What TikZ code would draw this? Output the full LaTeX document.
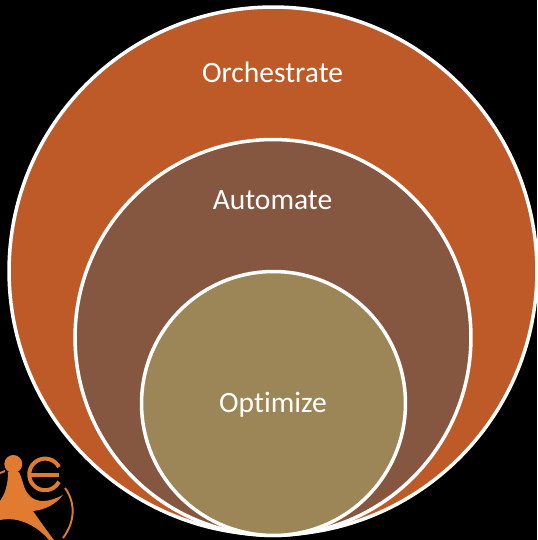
\documentclass[tikz,border=0pt]{standalone}
\usepackage{fontspec}
\setmainfont[Ligatures={NoCommon}]{Carlito}
\definecolor{orchestrate col}{HTML}{BE5A28}
\definecolor{automate col}{HTML}{855640}
\definecolor{optimize col}{HTML}{9C8658}
\definecolor{logo col}{HTML}{E07B30}

\begin{document}
\begin{tikzpicture}[x=0.02cm, y=-0.02cm]
	% Define styles
	\tikzstyle{ring} = [circle, draw=white, line width=2pt, inner sep=0pt, outer sep=0pt]
	\tikzstyle{caption} = [text=white, font=\fontsize{16.8}{20}\selectfont, inner sep=0pt]
	\tikzstyle{logo} = [fill=logo col, draw=none]

	% Background
	\fill [black] (0,0) rectangle (537,540);
	\useasboundingbox (0,0) rectangle (537,540);

	% Circles
	\node [ring, fill=orchestrate col, minimum size=10.56cm] (orchestrate) at (273,271) {};
	\node [ring, fill=automate col, minimum size=7.92cm] (automate) at (273,337.5) {};
	\node [ring, fill=optimize col, minimum size=5.28cm] (optimize) at (273.5,403.5) {};

	% Labels
	\node [caption] (orchestrate label) at (272.5,72) {Orchestrate};
	\node [caption] (automate label) at (272.5,200) {Automate};
	\node [caption] (optimize label) at (273,405) {Optimize};

	% Logo
	\fill [logo] (13.3,464) circle (9);
	\fill [logo] (0,472) -- (5,470) -- (5,472) -- (0,474) -- cycle;
	\fill [logo] (8,472) -- (19,472)
		.. controls (21,476) and (22,480) .. (23,483)
		.. controls (26,495) and (33,501) .. (43,501)
		.. controls (50,501) and (57,498) .. (63,495)
		.. controls (56,504) and (45,510) .. (33,511)
		.. controls (40,521) and (47,531) .. (54,540)
		-- (49,540) .. controls (38,527) and (20,516) .. (0,520)
		-- (0,501) .. controls (5,494) and (8,485) .. (8,472) -- cycle;
	\draw [draw=logo col, line width=2.3pt] (59,467) arc (-28:-332:15.8);
	\draw [draw=logo col, line width=2.3pt] (30,475) -- (59,475);
	\draw [draw=logo col, line width=1.1pt] (65,488) .. controls (76,503) and (75,522) .. (63,538);
\end{tikzpicture}
\end{document}
